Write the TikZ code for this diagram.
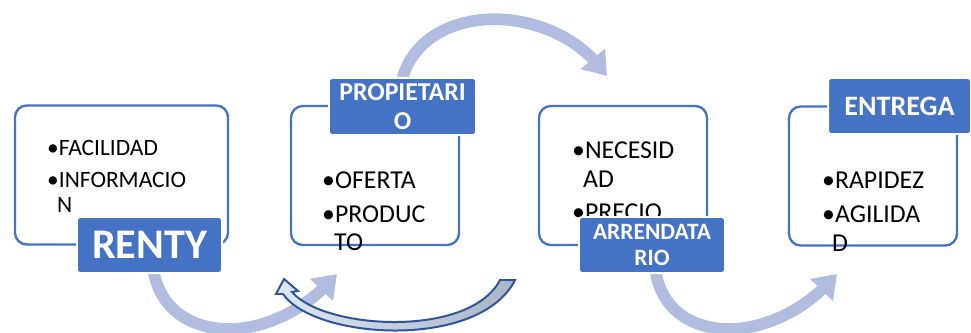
\documentclass[tikz,border=0pt]{standalone}
\usepackage{fontspec}
\setmainfont{Carlito}
\usepackage{tikz}
\usetikzlibrary{arrows.meta,positioning}
\usetikzlibrary{bending}
\usepackage{color}
\definecolor{boxblue}{RGB}{68,114,196}
\definecolor{arcblue}{RGB}{176,189,224}
\definecolor{backline}{RGB}{47,85,151}
\definecolor{backlight}{RGB}{222,231,245}
\definecolor{backgray}{RGB}{168,181,198}

\begin{document}
\begin{tikzpicture}[x=0.03cm,y=-0.03cm,
    stagebox/.style={draw=boxblue, line width=2pt, rounded corners=10pt,
        minimum width=5.04cm, minimum height=4.17cm, inner sep=0pt},
    stagetag/.style={fill=boxblue, draw=white, line width=1.7pt, rounded corners=2.5pt,
        text=white, align=center, inner sep=0pt, minimum height=1.68cm},
    listline/.style={anchor=base west, inner sep=0pt, font=\fontsize{22}{26}\selectfont},
    smallline/.style={listline, font=\fontsize{20}{24}\selectfont}]
    \useasboundingbox (0,0) rectangle (971,333);
%the boxes
    \node[stagebox, minimum width=6.39cm] (B1) at (121.5,175) {};
    \node[stagebox] (B2) at (375,175.5) {};
    \node[stagebox] (B3) at (623,175.5) {};
    \node[stagebox] (B4) at (873,176) {};
%the lists
    \node[smallline] (f1) at (47,155) {•FACILIDAD};
    \node[smallline] (f2) at (47,187) {•INFORMACIO};
    \node[smallline] (f3) at (57,212) {N};
    \node[listline] (o1) at (322,188) {•OFERTA};
    \node[listline] (o2) at (322,222) {•PRODUC};
    \node[listline] (o3) at (334,250) {TO};
    \node[listline] (n1) at (572,158) {•NECESID};
    \node[listline] (n2) at (583,187) {AD};
    \node[listline] (n3) at (572,220) {•PRECIO};
    \node[listline] (r1) at (822,188) {•RAPIDEZ};
    \node[listline] (r2) at (822,222) {•AGILIDA};
    \node[listline] (r3) at (832,251) {D};
%ends of the arcs
    \coordinate (t1) at (337,274);
    \coordinate (t2) at (607,76);
    \coordinate (t3) at (837,274);
    \coordinate (s2) at (402.5,78);
%the arcs
    \begin{scope}[every path/.style={draw=arcblue, line width=10pt, -{Triangle[width=26pt,length=19pt]}}]
       \draw (154,273) .. controls (168,345) and (272,350) .. (t1);
       \draw (s2) .. controls (425,0) and (555,0) .. (t2);
       \draw (656,273) .. controls (668,345) and (772,350) .. (t3);
    \end{scope}
%the way back
    \draw[draw=backline, line width=1.7pt, left color=backlight, right color=backgray]
       (500,280) -- (515,280) .. controls (480,350) and (315,340) .. (283,294)
       -- (276,294) -- (284,279) -- (298,291) -- (292,292)
       .. controls (325,330) and (470,338) .. (500,280) -- cycle;
%the labels
    \node[stagetag, minimum width=4.35cm, font=\bfseries\fontsize{36}{40}\selectfont] (renty) at (149.5,245) {RENTY};
    \node[stagetag, minimum width=4.41cm, minimum height=1.71cm, font=\bfseries\fontsize{22}{25}\selectfont] (prop) at (402.5,106.5) {PROPIETARI\\O};
    \node[stagetag, minimum width=4.38cm, font=\bfseries\fontsize{20}{23}\selectfont] (arren) at (652,245) {ARRENDATA\\RIO};
    \node[stagetag, minimum width=4.29cm, font=\bfseries\fontsize{24}{28}\selectfont] (entrega) at (899.5,106) {ENTREGA};
\end{tikzpicture}
\end{document}
